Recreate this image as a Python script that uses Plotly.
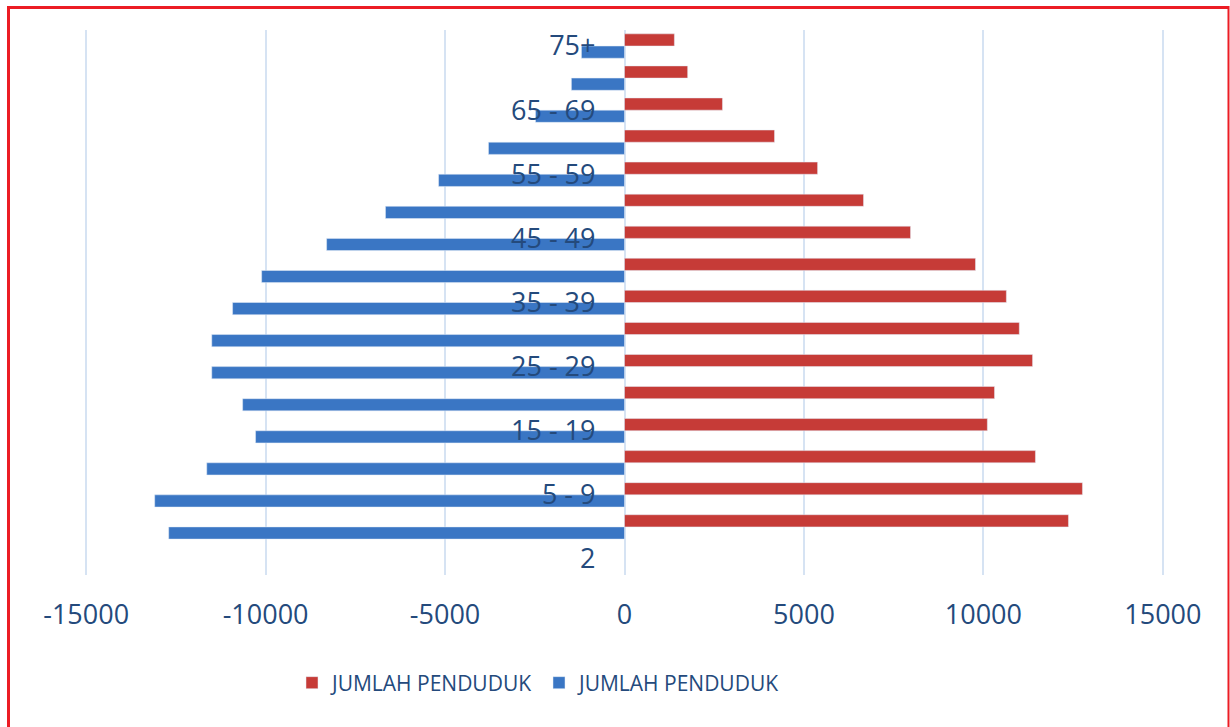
import plotly.graph_objects as go

# age groups from bottom to top ("2" is an empty category in the source chart)
age_groups = ["2", "0 - 4", "5 - 9", "10 - 14", "15 - 19", "20 - 24", "25 - 29", "30 - 34",
              "35 - 39", "40 - 44", "45 - 49", "50 - 54", "55 - 59", "60 - 64", "65 - 69",
              "70 - 74", "75+"]
red_values = [None, 12370, 12760, 11450, 10110, 10310, 11370, 11000, 10640, 9780, 7970,
              6660, 5380, 4180, 2730, 1760, 1390]
blue_values = [None, -12700, -13090, -11640, -10280, -10640, -11500, -11500, -10920,
               -10110, -8300, -6660, -5180, -3790, -2480, -1480, -1200]
series_name = "JUMLAH PENDUDUK"
x_ticks = [-15000, -10000, -5000, 0, 5000, 10000, 15000]
x_tick_labels = ["-15000", "-10000", "-5000", "0", "5000", "10000", "15000"]

TEXT = "#244A7C"
GRID = "#D6E3F3"
BORDER = "#EC1C24"
FONT = "Open Sans, Noto Sans, sans-serif"

W, H = 1230, 727
ML, MR, MT, MB = 84, 65, 30, 152
pw, ph = W - ML - MR, H - MT - MB


def px_x(p):
    return (p - ML) / pw


def px_y(p):
    return (H - MB - p) / ph


fig = go.Figure()
fig.add_trace(go.Bar(
    y=age_groups, x=blue_values, orientation="h", name=series_name,
    marker={"color": "#3A76C4"}, legendrank=2,
))
fig.add_trace(go.Bar(
    y=age_groups, x=red_values, orientation="h", name=series_name,
    marker={"color": "#C63B37"}, legendrank=1,
))

# small padding so the outer gridlines at +/-15000 are drawn
fig.update_xaxes(
    range=[x_ticks[0] - 60, x_ticks[-1] + 60],
    tickvals=x_ticks, ticktext=x_tick_labels,
    showgrid=True, gridcolor=GRID, gridwidth=2,
    zeroline=True, zerolinecolor=GRID, zerolinewidth=2,
    showline=False, ticks="",
    tickfont={"size": 27, "color": TEXT},
    ticklabelstandoff=21,
    automargin=False,
)
fig.update_yaxes(
    type="category",
    categoryorder="array", categoryarray=age_groups,
    range=[-0.5, len(age_groups) - 0.5],
    tickvals=age_groups[::2],
    anchor="free", position=0.5,
    showgrid=False, zeroline=False, showline=False, ticks="",
    tickfont={"size": 27, "color": TEXT},
    ticklabelstandoff=29,
    automargin=False,
)

border = dict(type="line", xref="paper", yref="paper", line={"color": BORDER})
fig.add_shape(border, x0=px_x(8.5), x1=px_x(8.5), y0=px_y(740), y1=px_y(6), line_width=3)
fig.add_shape(border, x0=px_x(7), x1=px_x(1229), y0=px_y(7.5), y1=px_y(7.5), line_width=3)
fig.add_shape(border, x0=px_x(1228.5), x1=px_x(1228.5), y0=px_y(6), y1=px_y(740), line_width=2)

fig.update_layout(
    width=W, height=H,
    margin={"l": ML, "r": MR, "t": MT, "b": MB},
    barmode="group", bargap=0.24, bargroupgap=0,
    paper_bgcolor="#ffffff", plot_bgcolor="#ffffff",
    font={"family": FONT, "color": TEXT},
    showlegend=True,
    legend={
        "orientation": "h",
        "x": px_x(292), "xanchor": "left",
        "y": px_y(683), "yanchor": "middle",
        "font": {"size": 21, "color": TEXT},
        "entrywidth": 202,
        "itemwidth": 30,
        "bgcolor": "rgba(0,0,0,0)",
    },
)

fig.write_html(
    "out.html",
    config={"displayModeBar": False},
    post_script="document.body.style.margin='0px';",
)
